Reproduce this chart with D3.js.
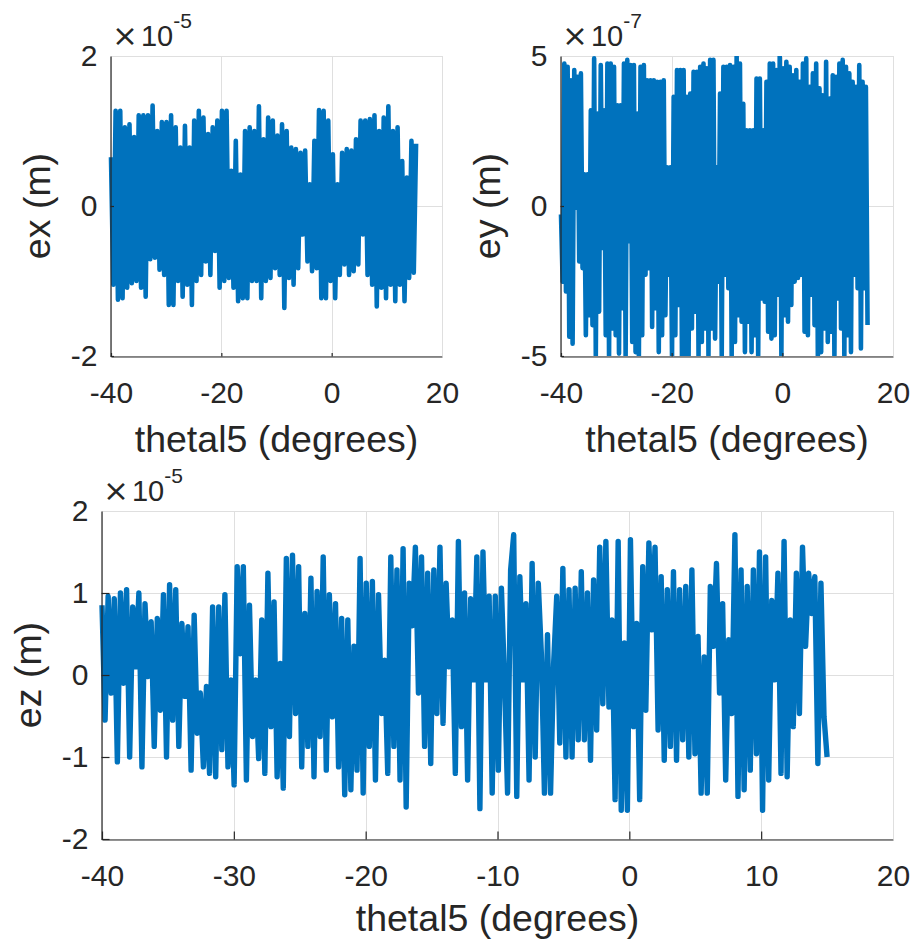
<!DOCTYPE html>
<html>
<head>
<meta charset="utf-8">
<script src="https://cdn.jsdelivr.net/npm/d3@7"></script>
<style>
  html, body { margin: 0; padding: 0; background: #fff; }
  svg { display: block; font-family: "Liberation Sans", Arial, Helvetica, sans-serif; }
</style>
</head>
<body>
<svg id="fig" width="913" height="941"></svg>
<script>
// Sweep of joint angle thetal5 covered by each record (degrees)
const thetaStart = -40;
const thetaEndEx = 15.3;
const thetaEndEy = 15.4;
const thetaEndEz = 15.0;

// ex error, units of 1e-5 m: successive local maxima / minima along the sweep
const exPeaks = [0.65,1.27,1.27,1.05,1.09,0.92,1.21,1.21,1.21,1.34,1.00,1.12,1.12,1.21,1.05,0.78,1.07,0.78,1.14,1.27,
  1.18,0.96,1.05,1.14,1.27,1.27,0.47,0.87,0.42,1.00,1.05,1.00,1.33,0.89,1.18,1.14,0.94,1.09,1.00,0.78,
  0.76,0.71,0.74,0.29,0.87,1.28,1.27,1.14,0.69,0.29,0.71,0.76,0.74,0.89,1.14,1.14,1.16,1.21,1.00,1.18,
  1.33,1.00,1.05,0.60,0.38,0.87,0.83];
const exTroughs = [-1.05,-1.25,-1.23,-1.09,-1.03,-1.00,-1.09,-1.21,-0.71,-0.69,-0.85,-0.92,-1.32,-1.32,-1.00,-1.21,-1.05,-1.32,-1.00,-0.92,
  -0.74,-0.92,-0.60,-1.09,-1.00,-0.96,-1.09,-1.27,-1.23,-1.23,-1.00,-1.00,-1.23,-1.00,-0.96,-0.83,-0.92,-1.36,-0.96,-1.05,
  -0.83,-0.38,-0.74,-0.87,-0.83,-1.23,-1.23,-1.00,-1.23,-0.92,-0.78,-0.92,-0.87,-0.78,-0.38,-0.92,-1.05,-1.34,-1.09,-1.23,
  -1.05,-1.27,-1.05,-1.27,-0.96,-0.89];

// ey error, units of 1e-7 m: successive local maxima / minima along the sweep
const eyPeaks = [-0.28,4.75,4.64,4.19,4.53,4.31,4.42,1.06,1.06,3.19,4.92,3.08,4.70,3.19,4.75,4.75,4.64,3.36,3.36,4.75,
  4.87,4.70,4.70,3.08,4.64,4.70,4.19,4.19,4.19,4.14,4.14,4.19,1.29,1.29,3.64,4.53,4.53,4.53,3.64,3.75,
  4.47,4.47,4.64,4.75,4.59,4.87,4.87,1.29,3.75,4.64,4.64,4.70,4.64,4.98,4.75,3.41,2.52,2.52,2.52,4.25,
  4.25,2.52,4.14,4.75,4.75,4.53,4.98,4.59,4.81,4.64,4.36,4.53,4.14,4.75,4.92,3.97,4.42,4.75,3.92,3.69,
  4.81,3.58,4.36,4.31,4.75,4.87,4.64,4.42,4.14,3.97,4.70,4.14,3.97];
const eyTroughs = [-2.52,-2.85,-4.36,-4.59,-0.06,-1.85,-2.07,-4.31,-3.64,-3.97,-4.98,-3.52,-1.40,-4.31,-4.98,-4.08,-4.31,-4.92,-3.41,-4.98,
  -1.17,-4.53,-4.87,-4.98,-4.31,-2.29,-2.07,-4.03,-3.41,-4.87,-4.31,-3.64,-2.29,-4.98,-4.31,-3.30,-4.99,-4.98,-4.98,-4.08,
  -3.52,-4.98,-4.53,-4.08,-4.98,-4.08,-4.42,-2.52,-4.98,-2.29,-2.74,-4.98,-4.53,-3.64,-3.86,-4.87,-3.86,-4.87,-4.31,-4.98,
  -3.08,-3.19,-4.19,-4.42,-4.31,-2.96,-4.98,-3.64,-3.86,-3.30,-2.52,-2.40,-2.29,-4.19,-4.31,-2.96,-3.97,-4.98,-4.87,-4.08,
  -4.53,-4.19,-4.98,-3.08,-4.08,-4.98,-4.31,-4.87,-2.29,-2.74,-4.75,-2.74,-3.97];

// ez error, units of 1e-5 m, sampled along the sweep
const ezValues = [0.85,-0.55,0.96,-0.22,0.93,-1.06,1.00,-0.10,1.04,-1.00,
  0.83,0.10,1.00,-1.12,0.87,-0.02,0.65,-0.87,0.69,-0.43,
  0.98,-1.00,1.10,-0.55,1.04,-0.87,0.63,-0.26,0.59,-1.16,
  0.73,-0.71,-0.22,-1.12,-0.14,-1.20,0.83,-1.24,0.83,-0.91,
  0.98,-1.12,-0.06,-1.34,1.32,0.26,1.32,-1.28,0.85,-0.75,
  -0.06,-1.02,0.67,-1.20,1.24,-0.63,0.89,-1.24,0.14,-1.38,
  1.42,-0.75,1.46,-0.47,1.32,-1.12,0.75,-0.87,1.18,-1.24,
  1.02,-0.75,1.44,-1.16,0.98,-0.51,0.87,-1.12,0.69,-1.46,
  0.67,-1.40,0.35,-1.16,1.42,-1.44,1.12,-0.87,1.14,-1.28,
  0.98,-0.47,0.18,-1.20,1.44,-0.87,1.28,-1.28,1.54,-1.61,
  1.12,0.60,1.56,-0.22,1.44,-0.87,1.24,-1.08,1.28,-0.47,
  1.56,-0.59,1.12,0.10,0.67,-1.20,1.63,-0.63,1.00,-1.28,
  0.93,-0.06,1.44,-1.63,1.50,-0.06,0.96,-1.44,0.96,-1.16,
  1.06,-0.06,-1.44,1.28,1.71,-1.48,1.20,-0.06,0.87,-1.28,
  1.36,-1.00,1.12,0.26,-1.44,0.49,-1.44,0.14,0.96,-0.83,
  1.30,-1.00,1.04,-1.00,1.06,-0.79,1.26,-0.79,1.00,-1.04,
  1.16,-0.67,1.56,-0.35,1.63,-0.39,0.67,-1.52,1.63,-1.65,
  0.39,-1.65,1.65,-0.63,0.63,-1.52,1.32,-0.43,1.61,0.55,
  1.56,-0.67,1.20,-1.04,1.04,-0.87,1.26,-1.04,1.04,-0.79,
  1.08,-1.00,1.28,-0.96,0.47,-1.44,0.22,-1.44,1.08,0.35,
  1.36,-0.22,0.87,-1.28,0.43,-0.47,1.71,-1.48,1.28,-1.40,
  1.08,-1.16,1.28,-0.96,1.50,-1.65,1.44,-1.28,0.91,-0.06,
  1.24,-1.20,1.63,-1.24,0.67,-0.63,1.24,-0.47,1.56,0.35,
  1.24,0.75,1.20,-1.08,1.12,-0.51,-1.00];

// Axis ticks and their labels
const thetaDomain = [-40, 20];
const xTicksTop = [-40, -20, 0, 20];
const xTickLabelsTop = ["-40", "-20", "0", "20"];
const xTicksBottom = [-40, -30, -20, -10, 0, 10, 20];
const xTickLabelsBottom = ["-40", "-30", "-20", "-10", "0", "10", "20"];
const exTicks = [-2, 0, 2];
const exTickLabels = ["-2", "0", "2"];
const eyTicks = [-5, 0, 5];
const eyTickLabels = ["-5", "0", "5"];
const ezTicks = [-2, -1, 0, 1, 2];
const ezTickLabels = ["-2", "-1", "0", "1", "2"];

const INK = "#262626";
const GRID = "#dfdfdf";
const LINE = "#0072BD";
const TICK_FONT = 30;
const LABEL_FONT = 37.5;

const svg = d3.select("#fig");

// Alternate maxima and minima into one trace
function weave(peaks, troughs) {
  const out = [];
  const n = Math.max(peaks.length, troughs.length);
  for (let i = 0; i < n; i++) {
    if (i < peaks.length) out.push(peaks[i]);
    if (i < troughs.length) out.push(troughs[i]);
  }
  return out;
}

function toSeries(values, x0, x1) {
  const step = (x1 - x0) / (values.length - 1);
  return values.map((v, i) => ({ theta: x0 + i * step, v }));
}

let clipId = 0;
function panel(o) {
  const g = svg.append("g");
  const x = d3.scaleLinear().domain(thetaDomain).range([o.left, o.right]);
  const y = d3.scaleLinear().domain(o.yDomain).range([o.bottom, o.top]);

  // grid lines at every tick, including the limits
  g.append("g").selectAll("line").data(o.xTicks).join("line")
    .attr("x1", d => Math.round(x(d)) + 0.5).attr("x2", d => Math.round(x(d)) + 0.5)
    .attr("y1", o.top).attr("y2", o.bottom)
    .attr("stroke", GRID).attr("stroke-width", 1);
  g.append("g").selectAll("line").data(o.yTicks).join("line")
    .attr("y1", d => Math.round(y(d)) + 0.5).attr("y2", d => Math.round(y(d)) + 0.5)
    .attr("x1", o.left).attr("x2", o.right)
    .attr("stroke", GRID).attr("stroke-width", 1);

  // data trace
  const id = "clip" + (clipId++);
  g.append("clipPath").attr("id", id).append("rect")
    .attr("x", o.left - 5).attr("y", o.top)
    .attr("width", o.right - o.left + 10).attr("height", o.bottom - o.top);
  const line = d3.line().x(d => x(d.theta)).y(d => y(d.v));
  g.append("path").datum(o.series)
    .attr("clip-path", `url(#${id})`)
    .attr("d", line)
    .attr("fill", "none").attr("stroke", LINE)
    .attr("stroke-width", o.lineWidth).attr("stroke-linejoin", "round").attr("stroke-linecap", "butt");

  // axes: ticks point inward
  const xAxis = d3.axisBottom(x).tickValues(o.xTicks)
    .tickFormat((d, i) => o.xLabels[i]).tickSizeInner(-o.tickLen).tickSizeOuter(0).tickPadding(25);
  const yAxis = d3.axisLeft(y).tickValues(o.yTicks)
    .tickFormat((d, i) => o.yLabels[i]).tickSizeInner(-o.tickLen).tickSizeOuter(0).tickPadding(13);
  const gx = g.append("g").attr("transform", `translate(0,${o.bottom + 0.5})`).call(xAxis);
  const gy = g.append("g").attr("transform", `translate(${o.left - 0.5},0)`).call(yAxis);
  [gx, gy].forEach(a => {
    a.select(".domain").attr("stroke", INK).attr("stroke-width", 1.2);
    a.selectAll(".tick line").attr("stroke", INK).attr("stroke-width", 1.2);
    a.selectAll(".tick text").attr("fill", INK).attr("font-size", TICK_FONT)
      .attr("font-family", "'Liberation Sans', Arial, sans-serif");
  });
  // the far limits carry only a grid line
  gx.selectAll(".tick line").filter(d => d === thetaDomain[1]).remove();
  gy.selectAll(".tick line").filter(d => d === o.yDomain[1]).remove();

  // axis labels
  g.append("text")
    .attr("x", (o.left + o.right) / 2).attr("y", o.bottom + o.xLabelDy)
    .attr("text-anchor", "middle").attr("fill", INK).attr("font-size", LABEL_FONT)
    .text("thetal5 (degrees)");
  g.append("text")
    .attr("transform", `translate(${o.left - 61},${(o.top + o.bottom) / 2}) rotate(-90)`)
    .attr("text-anchor", "middle").attr("fill", INK).attr("font-size", LABEL_FONT)
    .text(o.yTitle);

  // exponent multiplier above the y axis
  const ex = g.append("text")
    .attr("x", o.left + 1).attr("y", o.top - 10)
    .attr("fill", INK).attr("font-size", 29);
  ex.append("tspan").attr("font-family", "'DejaVu Sans', sans-serif").attr("font-size", 31).text("\u00d7");
  ex.append("tspan").attr("dx", 3).text("10");
  ex.append("tspan").attr("dy", -18).attr("font-size", 21).text(o.exponent);
}

panel({
  left: 111, right: 442, top: 56, bottom: 356,
  yDomain: [-2, 2], xTicks: xTicksTop, xLabels: xTickLabelsTop,
  yTicks: exTicks, yLabels: exTickLabels, tickLen: 3.5, lineWidth: 4.6,
  series: toSeries(weave(exPeaks, exTroughs), thetaStart, thetaEndEx),
  yTitle: "ex (m)", exponent: "-5", xLabelDy: 96
});

panel({
  left: 561, right: 893, top: 56, bottom: 356,
  yDomain: [-5, 5], xTicks: xTicksTop, xLabels: xTickLabelsTop,
  yTicks: eyTicks, yLabels: eyTickLabels, tickLen: 3.5, lineWidth: 4.6,
  series: toSeries(weave(eyPeaks, eyTroughs), thetaStart, thetaEndEy),
  yTitle: "ey (m)", exponent: "-7", xLabelDy: 96
});

panel({
  left: 102, right: 893, top: 511, bottom: 839,
  yDomain: [-2, 2], xTicks: xTicksBottom, xLabels: xTickLabelsBottom,
  yTicks: ezTicks, yLabels: ezTickLabels, tickLen: 8, lineWidth: 5.4,
  series: toSeries(ezValues, thetaStart, thetaEndEz),
  yTitle: "ez (m)", exponent: "-5", xLabelDy: 92
});
</script>
</body>
</html>
